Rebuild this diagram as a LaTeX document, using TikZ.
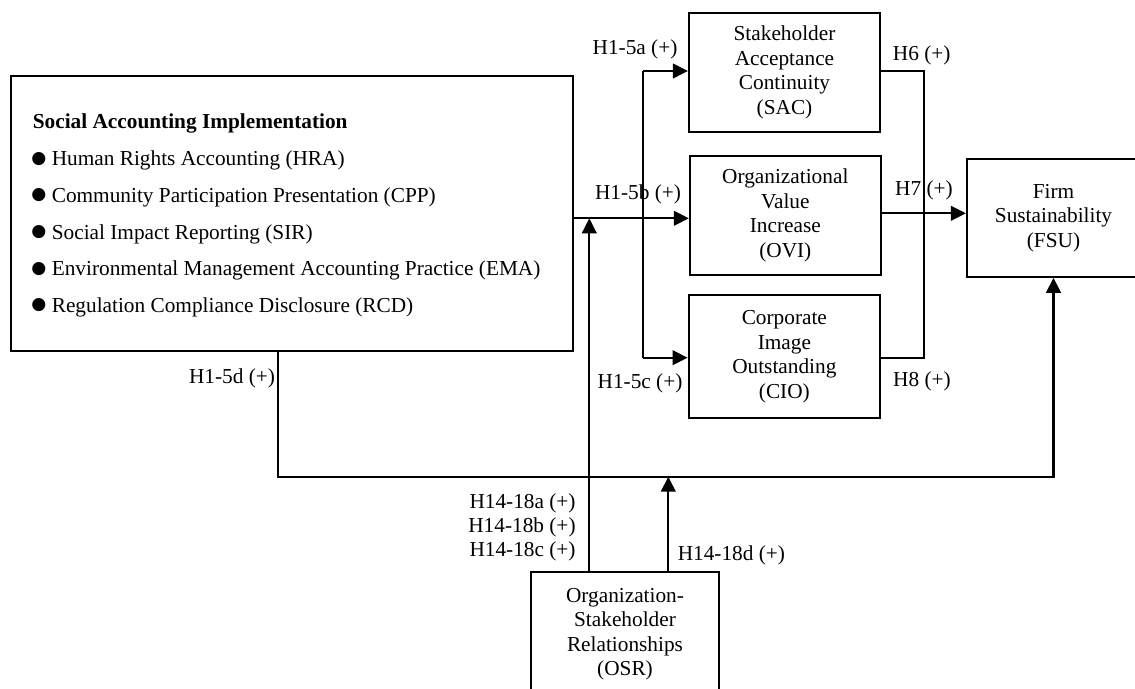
\documentclass[tikz,border=0pt]{standalone}
\usepackage{fontspec}
\setmainfont{Liberation Serif}
\newfontfamily\symfont{DejaVu Sans}
\usetikzlibrary{arrows.meta}
\begin{document}
\begin{tikzpicture}[x=0.5pt,y=-0.5pt,
  line width=1.1pt,
  every node/.style={font=\fontsize{10.65}{12.25}\selectfont, inner sep=0pt},
  box/.style={draw, align=center},
  arr/.style={-{Triangle[length=7.5pt,width=7.3pt]}},
  bul/.style={font=\symfont\fontsize{8.6}{8.6}\selectfont, anchor=center},
  item/.style={anchor=base west}]
\useasboundingbox (0,0) rectangle (1135,689);
\clip (0,0) rectangle (1135,689);

% construct boxes
\node[box, minimum width=281.15pt, minimum height=137.35pt] (sai) at (291.85,213.35) {};
\node[box, minimum width=95.5pt, minimum height=59.5pt] (sac) at (784.5,72.5)
  {Stakeholder\\Acceptance\\Continuity\\(SAC)};
\node[box, minimum width=95.35pt, minimum height=59.5pt] (ovi) at (785.3,215.5)
  {Organizational\\Value\\Increase\\(OVI)};
\node[box, minimum width=95.65pt, minimum height=61.65pt] (cio) at (784.35,356.65)
  {Corporate\\Image\\Outstanding\\(CIO)};
\node[box, minimum width=86.5pt, minimum height=58.85pt] (fsu) at (1053.5,217.85)
  {Firm\\Sustainability\\(FSU)};
\node[box, minimum width=94.3pt, minimum height=62.3pt] (osr) at (625,634)
  {Organization-\\Stakeholder\\Relationships\\(OSR)};

% dimensions of social accounting implementation
\node[item, font=\fontsize{10.65}{12.25}\selectfont\bfseries] (title) at (31.7,128.3) {Social Accounting Implementation};
\node[bul] (b1) at (39,158.7) {●};
\node[item] (i1) at (50.7,166) {Human Rights Accounting (HRA)};
\node[bul] (b2) at (39,195.4) {●};
\node[item] (i2) at (50.7,202.7) {Community Participation Presentation (CPP)};
\node[bul] (b3) at (39,232) {●};
\node[item] (i3) at (50.7,239.3) {Social Impact Reporting (SIR)};
\node[bul] (b4) at (39,268.7) {●};
\node[item] (i4) at (50.7,276) {Environmental Management Accounting Practice (EMA)};
\node[bul] (b5) at (39,305.4) {●};
\node[item] (i5) at (50.7,312.7) {Regulation Compliance Disclosure (RCD)};

% routing points
\coordinate (midy) at (0,218.3);
\coordinate (h7y) at (0,213.3);
\coordinate (bt) at (642.7,71);
\coordinate (bb) at (642.7,357.7);
\coordinate (rt) at (924,71);
\coordinate (rb) at (924,357.7);
\coordinate (lowl) at (277.7,476.7);
\coordinate (oa) at (589.3,218.3);
\coordinate (ob) at (668.3,476.7);

% paths
\draw[arr] (sai.east |- midy) -- (ovi.west |- midy);
\draw (bt) -- (bb);
\draw[arr] (bt) -- (sac.west |- bt);
\draw[arr] (bb) -- (cio.west |- bb);
\draw (sac.east |- rt) -- (rt) -- (rb) -- (cio.east |- rb);
\draw[arr] (ovi.east |- h7y) -- (fsu.west |- h7y);
\draw[arr] (sai.south -| lowl) -- (lowl) -| (fsu.south);
\draw[arr] (osr.north -| oa) -- (oa);
\draw[arr] (osr.north -| ob) -- (ob);

% hypothesis labels
\node (la) at (635,49) {H1-5a (+)};
\node (lb) at (638,194) {H1-5b (+)};
\node (lc) at (640,383) {H1-5c (+)};
\node (ld) at (232,378.3) {H1-5d (+)};
\node (l6) at (921.7,55) {H6 (+)};
\node (l7) at (924,190) {H7 (+)};
\node (l8) at (922,381) {H8 (+)};
\node[align=right, anchor=east, font=\fontsize{10.65}{12.1}\selectfont] (labc) at (576.7,527.5)
  {H14-18a (+)\\H14-18b (+)\\H14-18c (+)};
\node[anchor=west] (ldd) at (676.7,555.7) {H14-18d (+)};
\end{tikzpicture}
\end{document}
